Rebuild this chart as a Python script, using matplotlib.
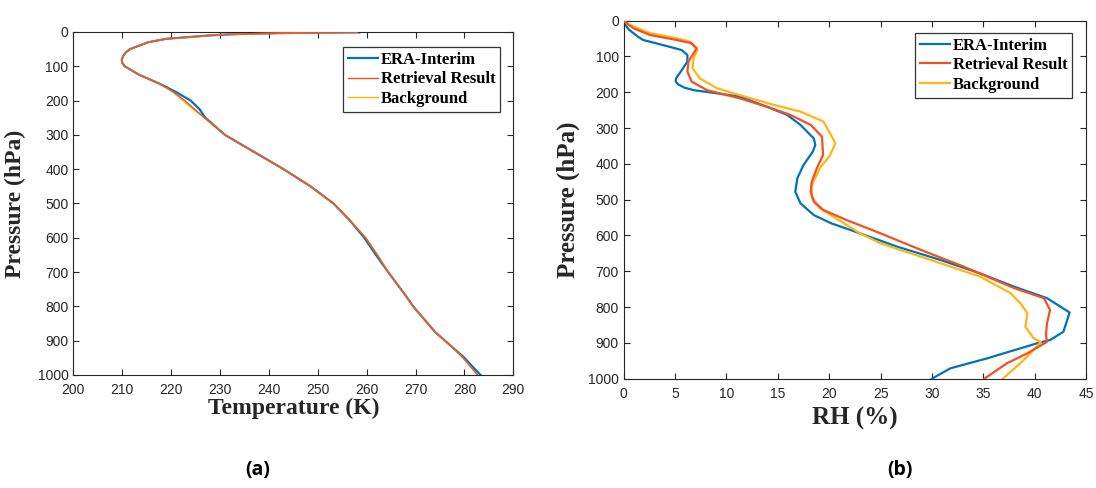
import numpy as np
import matplotlib
matplotlib.use('Agg')
import matplotlib.pyplot as plt

# pressure levels (hPa) for the temperature profiles
plev = [1, 2, 3, 5, 7, 10, 20, 30, 50, 60, 70, 80, 90, 100, 125, 150, 175, 200, 225,
        250, 300, 350, 400, 450, 500, 550, 600, 650, 700, 750, 775, 800, 825, 850,
        875, 900, 925, 950, 975, 1000]

t_era = [258.5, 250, 244, 236.5, 232, 228, 219, 215.3, 211.6, 210.7, 210.2, 209.9,
         210.0, 210.5, 213.5, 217.5, 221, 224, 225.8, 227, 231, 237, 243, 248.5, 253.2,
         256.6, 259.5, 261.9, 264.4, 267, 268.3, 269.5, 271, 272.5, 274, 276, 278, 280,
         281.6, 283.3]
t_ret = [258, 250, 244, 236.5, 232, 228, 219, 215.3, 211.6, 210.7, 210.2, 209.9,
         210.0, 210.5, 213.5, 217.5, 220.5, 222.8, 224.8, 226.8, 231, 237, 243, 248.5,
         253.2, 256.6, 259.8, 262.2, 264.4, 267, 268.3, 269.5, 271, 272.5, 274, 276, 278,
         279.7, 281.2, 282.7]
t_bkg = [258, 250, 244, 236.5, 232, 228, 219, 215.3, 211.6, 210.7, 210.2, 209.9,
         210.0, 210.5, 213.5, 217.5, 220.3, 222.4, 224.5, 226.8, 231, 237, 243, 248.5,
         253.2, 256.6, 259.8, 262.2, 264.4, 267, 268.3, 269.5, 271, 272.5, 274, 276, 278,
         279.7, 281.2, 282.7]

# relative humidity profiles
p_rh_era = [1, 12, 25, 35, 45, 54, 62, 71, 82, 96, 114, 138, 161, 170, 178, 187, 194,
            203, 212, 240, 263, 291, 329, 347, 366, 403, 440, 478, 510, 543, 566, 589,
            631, 668, 706, 743, 775, 815, 869, 892, 901, 943, 971, 1000]
rh_era = [0, 0.15, 0.5, 0.95, 1.4, 1.9, 3.0, 4.2, 5.65, 6.2, 6.2, 5.65, 5.1, 5.05, 5.3,
          5.9, 6.8, 9.1, 11.3, 13.9, 15.9, 17.2, 18.5, 18.65, 18.4, 17.5, 16.9, 16.7,
          17.2, 18.5, 20.2, 22.5, 26.6, 30.8, 34.7, 38.0, 41.2, 43.4, 42.8, 41.5, 40.25,
          35.4, 31.8, 30.0]

p_rh_ret = [1, 21, 40, 54, 63, 77, 91, 114, 142, 170, 194, 217, 240, 263, 291, 324, 375,
            412, 450, 478, 506, 529, 557, 594, 640, 687, 747, 775, 808, 845, 878, 897,
            929, 957, 1000]
rh_ret = [0, 0.94, 2.56, 5.17, 6.6, 7.1, 6.8, 6.3, 6.2, 6.6, 8.1, 11.3, 13.9, 16.2, 18.2,
          19.3, 19.4, 18.8, 18.3, 18.2, 18.5, 19.45, 21.7, 25.0, 28.9, 33.1, 38.0, 40.9,
          41.5, 41.2, 41.1, 41.2, 39.3, 37.3, 35.1]

p_rh_bkg = [1, 12, 35, 49, 59, 82, 105, 133, 161, 189, 208, 235, 254, 282, 342, 375, 412,
            459, 492, 524, 594, 622, 668, 715, 761, 789, 817, 855, 887, 897, 920, 957, 1000]
rh_bkg = [0, 0.6, 2.56, 5.17, 6.46, 7.17, 6.8, 6.7, 7.4, 9.1, 11.3, 14.6, 17.2, 19.45,
          20.6, 20.1, 19.1, 18.3, 18.3, 19.1, 23.0, 25.0, 29.85, 34.7, 37.65, 38.6, 39.3,
          39.1, 39.9, 40.6, 39.9, 38.6, 36.9]

labels = ['ERA-Interim', 'Retrieval Result', 'Background']
c_era = '#0072BD'
c_ret = '#F4511E'
c_bkg = '#FFB612'

tick_font = ['Liberation Sans Narrow', 'Liberation Sans', 'DejaVu Sans']
label_font = ['Liberation Serif', 'DejaVu Serif']
axc = '#262626'

fig = plt.figure(figsize=(10.96, 4.88), dpi=100)
ax1 = fig.add_axes([0.0669, 0.2316, 0.4015, 0.7029])
ax2 = fig.add_axes([0.5691, 0.2240, 0.4218, 0.7336])

ax1.plot(t_era, plev, color=c_era, lw=1.6, label=labels[0], zorder=2)
ax1.plot(t_bkg, plev, color=c_bkg, lw=1.0, label=labels[2], zorder=3)
ax1.plot(t_ret, plev, color=c_ret, lw=1.0, label=labels[1], zorder=4)

ax2.plot(rh_era, p_rh_era, color=c_era, lw=1.6, label=labels[0], zorder=2)
ax2.plot(rh_ret, p_rh_ret, color=c_ret, lw=1.6, label=labels[1], zorder=4)
ax2.plot(rh_bkg, p_rh_bkg, color=c_bkg, lw=1.6, label=labels[2], zorder=3)

ax1.set_xlim(200, 290)
ax1.set_xticks(np.arange(200, 291, 10))
ax2.set_xlim(0, 45)
ax2.set_xticks(np.arange(0, 46, 5))

for ax in (ax1, ax2):
    ax.set_ylim(1000, 0)
    ax.set_yticks(np.arange(0, 1001, 100))
    ax.tick_params(direction='in', length=4, width=0.8, colors=axc, top=True, right=True,
                   labelsize=10)
    ax.tick_params(axis='x', pad=6)
    for lab in ax.get_xticklabels() + ax.get_yticklabels():
        lab.set_family(tick_font)
        lab.set_color(axc)
    for sp in ax.spines.values():
        sp.set_color(axc)
        sp.set_linewidth(0.8)

ax1.set_xlabel('Temperature (K)', fontsize=17, fontweight='bold', family=label_font,
               color=axc, labelpad=0)
ax1.set_ylabel('Pressure (hPa)', fontsize=17, fontweight='bold', family=label_font,
               color=axc, labelpad=8)
ax2.set_xlabel('RH (%)', fontsize=18, fontweight='bold', family=label_font,
               color=axc, labelpad=4)
ax2.set_ylabel('Pressure (hPa)', fontsize=18, fontweight='bold', family=label_font,
               color=axc, labelpad=6)

# legends in the order ERA, retrieval, background
h1, l1 = ax1.get_legend_handles_labels()
order1 = [l1.index(s) for s in labels]
leg1 = ax1.legend([h1[i] for i in order1], labels, loc='upper right',
                  bbox_to_anchor=(0.970, 0.956), borderaxespad=0,
                  prop={'family': label_font, 'weight': 'bold', 'size': 12},
                  handlelength=1.8, handletextpad=0.15, borderpad=0.3, labelspacing=0.2,
                  fancybox=False, framealpha=1, edgecolor='#333333')
leg1.get_frame().set_linewidth(0.9)

h2, l2 = ax2.get_legend_handles_labels()
order2 = [l2.index(s) for s in labels]
leg2 = ax2.legend([h2[i] for i in order2], labels, loc='upper right',
                  bbox_to_anchor=(0.970, 0.966), borderaxespad=0,
                  prop={'family': label_font, 'weight': 'bold', 'size': 12},
                  handlelength=1.8, handletextpad=0.15, borderpad=0.3, labelspacing=0.2,
                  fancybox=False, framealpha=1, edgecolor='#333333')
leg2.get_frame().set_linewidth(0.9)

cap_font = ['Open Sans', 'DejaVu Sans']
fig.text(258 / 1096, 1 - 470 / 488, '(a)', ha='center', va='center', fontsize=14,
         fontweight='bold', family=cap_font)
fig.text(900 / 1096, 1 - 470 / 488, '(b)', ha='center', va='center', fontsize=14,
         fontweight='bold', family=cap_font)

fig.savefig('out.png', dpi=100)
